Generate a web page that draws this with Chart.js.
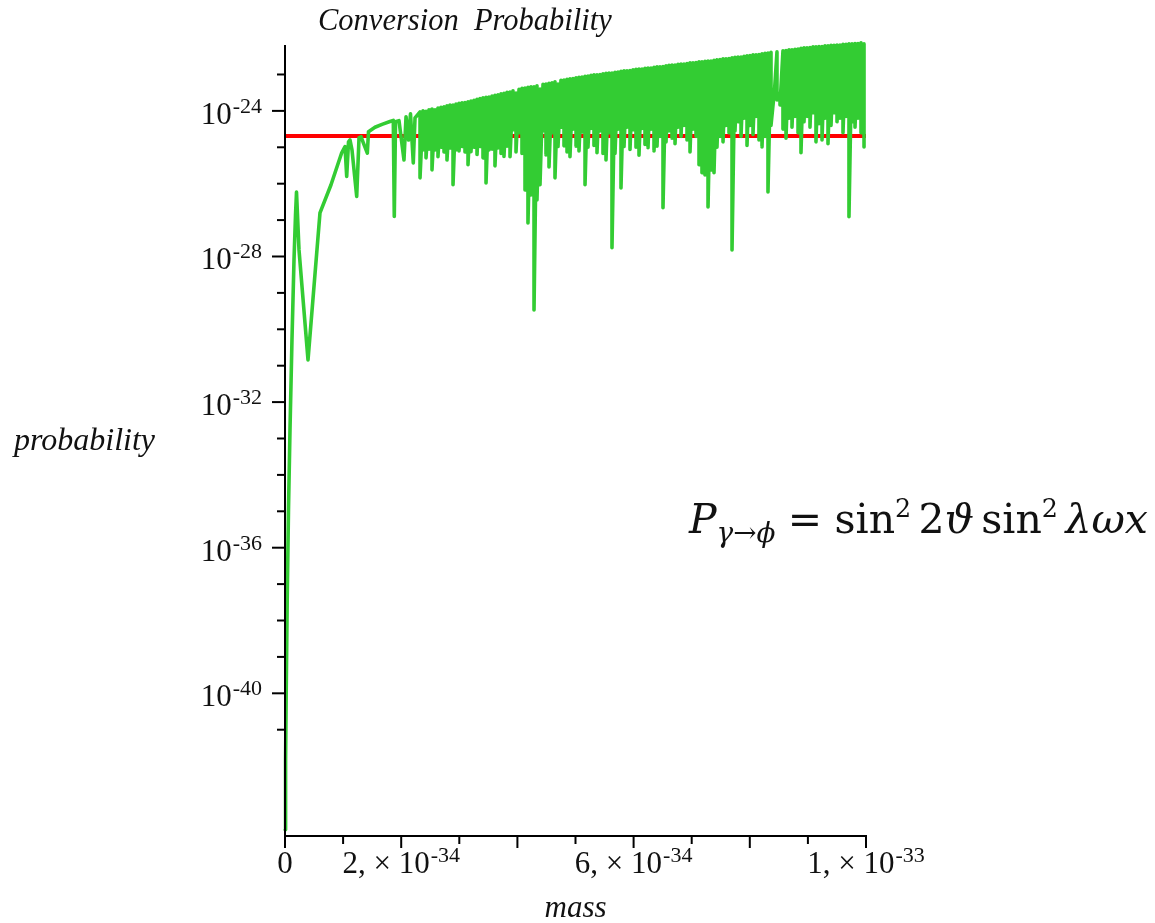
<!DOCTYPE html>
<html>
<head>
<meta charset="utf-8">
<script src="https://cdn.jsdelivr.net/npm/chart.js@4.4.1/dist/chart.umd.min.js"></script>
<style>
  html, body { margin: 0; padding: 0; background: #ffffff; }
  #wrap { width: 1155px; height: 923px; }
</style>
</head>
<body>
<div id="wrap"><canvas id="plot" width="1155" height="923"></canvas></div>
<script>
// Mass values are given in units of 1e-34, probabilities as log10 exponents.
const MASS_UNIT = 1e-34;

// Rising part of the conversion curve (low masses)
const earlyMass = [0.003, 0.010, 0.021, 0.038, 0.060, 0.086, 0.120, 0.155, 0.181, 0.198,
  0.241, 0.396, 0.602, 0.792, 0.976, 1.033, 1.062, 1.093, 1.119, 1.153,
  1.234, 1.274, 1.308, 1.360, 1.417, 1.437, 1.549, 1.670, 1.807, 1.864,
  1.881, 1.902, 1.962, 2.048, 2.083, 2.126, 2.160, 2.208, 2.238];
const earlyExp = [-43.75, -41.83, -39.91, -37.43, -34.96, -32.76, -30.29, -28.09, -26.86, -26.23,
  -27.82, -30.84, -26.80, -26.03, -25.15, -24.98, -25.80, -24.85, -24.80, -25.07,
  -26.35, -24.74, -24.71, -24.93, -25.16, -24.57, -24.45, -24.37, -24.29, -24.26,
  -26.90, -24.30, -24.27, -25.35, -24.16, -24.80, -24.08, -25.43, -24.19];

// Fast-oscillating part: each sample column has a maximum and a minimum
const bandMass = [2.324, 2.375, 2.427, 2.478, 2.530, 2.582, 2.633, 2.685, 2.737, 2.788,
  2.840, 2.892, 2.943, 2.995, 3.046, 3.098, 3.150, 3.201, 3.253, 3.305,
  3.356, 3.408, 3.460, 3.511, 3.563, 3.614, 3.666, 3.718, 3.769, 3.821,
  3.873, 3.924, 3.976, 4.028, 4.079, 4.131, 4.182, 4.234, 4.286, 4.337,
  4.389, 4.441, 4.492, 4.544, 4.596, 4.647, 4.699, 4.750, 4.802, 4.854,
  4.905, 4.957, 5.009, 5.060, 5.112, 5.164, 5.215, 5.267, 5.318, 5.370,
  5.422, 5.473, 5.525, 5.577, 5.628, 5.680, 5.731, 5.783, 5.835, 5.886,
  5.938, 5.990, 6.041, 6.093, 6.145, 6.196, 6.248, 6.299, 6.351, 6.403,
  6.454, 6.506, 6.558, 6.609, 6.661, 6.713, 6.764, 6.816, 6.867, 6.919,
  6.971, 7.022, 7.074, 7.126, 7.177, 7.229, 7.281, 7.332, 7.384, 7.435,
  7.487, 7.539, 7.590, 7.642, 7.694, 7.745, 7.797, 7.849, 7.900, 7.952,
  8.003, 8.055, 8.107, 8.158, 8.210, 8.262, 8.313, 8.365, 8.417, 8.468,
  8.520, 8.571, 8.623, 8.675, 8.726, 8.778, 8.830, 8.881, 8.933, 8.984,
  9.036, 9.088, 9.139, 9.191, 9.243, 9.294, 9.346, 9.398, 9.449, 9.501,
  9.552, 9.604, 9.656, 9.707, 9.759, 9.811, 9.862, 9.914, 9.966];
const bandTop = [-24.03, -24.00, -24.01, -23.97, -23.95, -23.97, -23.92, -23.90, -23.89, -23.86,
  -23.84, -23.84, -23.81, -23.79, -23.78, -23.77, -23.75, -23.73, -23.71, -23.68,
  -23.66, -23.64, -23.63, -23.62, -23.59, -23.57, -23.56, -23.53, -23.52, -23.49,
  -23.48, -23.45, -23.51, -23.41, -23.38, -23.37, -23.35, -23.34, -23.34, -23.31,
  -23.40, -23.27, -23.26, -23.24, -23.23, -23.20, -23.26, -23.16, -23.15, -23.13,
  -23.12, -23.11, -23.09, -23.08, -23.07, -23.05, -23.04, -23.02, -23.01, -23.01,
  -23.00, -22.98, -22.97, -22.96, -22.96, -22.94, -22.93, -22.91, -22.90, -22.90,
  -22.89, -22.87, -22.86, -22.85, -22.85, -22.83, -22.82, -22.82, -22.80, -22.79,
  -22.79, -22.78, -22.76, -22.75, -22.74, -22.74, -22.72, -22.71, -22.71, -22.70,
  -22.68, -22.68, -22.67, -22.65, -22.65, -22.64, -22.63, -22.63, -22.61, -22.60,
  -22.59, -22.57, -22.57, -22.56, -22.54, -22.53, -22.52, -22.52, -22.50, -22.49,
  -22.48, -22.46, -22.46, -22.45, -22.43, -22.42, -22.41, -22.39, -23.56, -22.38,
  -23.51, -22.35, -22.34, -22.32, -22.32, -22.31, -22.30, -22.28, -22.27, -22.27,
  -22.26, -22.24, -22.24, -22.23, -22.23, -22.21, -22.21, -22.20, -22.20, -22.19,
  -22.19, -22.17, -22.17, -22.16, -22.16, -22.15, -22.15, -22.13, -22.16];
const bandLow = [-25.84, -25.07, -25.29, -25.05, -25.62, -25.07, -25.26, -25.00, -25.13, -25.35,
  -25.02, -26.03, -25.07, -25.10, -24.98, -25.13, -25.48, -25.12, -25.00, -25.20,
  -24.98, -25.29, -25.98, -25.07, -25.05, -25.51, -25.02, -25.17, -25.25, -24.97,
  -25.26, -24.52, -25.13, -24.60, -25.17, -26.17, -27.08, -26.31, -29.47, -26.45,
  -26.03, -24.55, -25.21, -25.54, -24.60, -25.84, -24.98, -24.45, -24.96, -25.13,
  -25.26, -24.50, -24.97, -25.10, -24.58, -26.03, -25.00, -24.48, -24.95, -25.15,
  -24.55, -25.17, -25.35, -24.60, -27.76, -25.17, -24.50, -26.12, -24.98, -24.45,
  -25.06, -24.52, -25.00, -25.22, -24.48, -24.92, -25.01, -24.50, -25.10, -24.97,
  -24.70, -26.66, -24.85, -24.55, -24.75, -24.90, -24.45, -24.70, -24.40, -24.80,
  -25.13, -24.50, -24.70, -25.48, -25.70, -25.76, -26.64, -25.62, -25.70, -25.00,
  -24.70, -24.85, -24.40, -24.60, -27.82, -24.55, -24.30, -24.70, -24.20, -24.95,
  -24.40, -24.65, -24.15, -24.80, -24.99, -24.70, -26.23, -24.40, -23.64, -23.70,
  -23.84, -24.50, -24.75, -24.20, -24.45, -24.15, -24.60, -25.15, -24.30, -24.15,
  -24.45, -24.05, -24.85, -24.35, -24.80, -24.20, -24.90, -24.40, -24.05, -24.30,
  -24.20, -24.60, -24.15, -26.91, -24.30, -24.45, -24.20, -24.60, -24.99];

// Reference level (horizontal line)
const levelMass = [0, 10];
const levelExp = [-24.69, -24.69];

// Axes
const massRange = [0, 10];
const expRange = [-43.92, -22.19];
const yTickExps = [-23, -24, -25, -26, -27, -28, -29, -30, -31, -32, -33, -34, -35, -36, -37, -38, -39, -40, -41];
const yLabelExps = [-24, -28, -32, -36, -40];
const xTickMass = [0, 1, 2, 3, 4, 5, 6, 7, 8, 9, 10];
const xMajorMass = [0, 2, 4, 6, 8, 10];
const xLabelMass = [0, 2, 6, 10];
const xLabelMantissa = ['0', '2, \u00d7 10', '6, \u00d7 10', '1, \u00d7 10'];
const xLabelPower = ['', '-34', '-34', '-33'];

const titleText = 'Conversion  Probability';
const yTitleText = 'probability';
const xTitleText = 'mass';

// ---- build point lists ----
const curvePoints = [];
earlyMass.forEach((m, i) => curvePoints.push({ x: m * MASS_UNIT, y: Math.pow(10, earlyExp[i]) }));
bandMass.forEach((m, i) => {
  curvePoints.push({ x: m * MASS_UNIT, y: Math.pow(10, bandTop[i]) });
  curvePoints.push({ x: m * MASS_UNIT, y: Math.pow(10, bandLow[i]) });
});
const levelPoints = levelMass.map((m, i) => ({ x: m * MASS_UNIT, y: Math.pow(10, levelExp[i]) }));

const SERIF = "'Liberation Serif', 'Times New Roman', 'DejaVu Serif', serif";
const MATH = "'DejaVu Serif', serif";
const INK = '#111111';

function powerLabel(ctx, mantissa, power, anchorX, baseY, align) {
  const BASE = 31, SUP = 22, RAISE = 11;
  ctx.font = BASE + 'px ' + SERIF;
  const wBase = ctx.measureText(mantissa).width;
  ctx.font = SUP + 'px ' + SERIF;
  const wPow = power ? ctx.measureText(power).width + 1 : 0;
  const total = wBase + wPow;
  let x0 = anchorX;
  if (align === 'right') x0 = anchorX - total;
  else if (align === 'center') x0 = anchorX - total / 2;
  ctx.textAlign = 'left';
  ctx.textBaseline = 'alphabetic';
  ctx.font = BASE + 'px ' + SERIF;
  ctx.fillText(mantissa, x0, baseY);
  if (power) {
    ctx.font = SUP + 'px ' + SERIF;
    ctx.fillText(power, x0 + wBase + 1, baseY - RAISE);
  }
}

// formula  P_{γ→ϕ} = sin² 2ϑ sin² λωx, laid out piece by piece
const formulaPieces = [
  { t: 'P', it: true, s: 1, dy: 0 },
  { t: '\u03b3', it: true, s: 0.68, dy: 10 },
  { t: '\u2192', it: false, s: 0.68, dy: 10 },
  { t: '\u03d5', it: true, s: 0.68, dy: 10 },
  { gap: 0.3 },
  { t: '=', it: false, s: 1, dy: 0 },
  { gap: 0.3 },
  { t: 'sin', it: false, s: 1, dy: 0 },
  { t: '2', it: false, s: 0.62, dy: -17 },
  { gap: 0.18 },
  { t: '2', it: false, s: 1, dy: 0 },
  { t: '\u03d1', it: true, s: 1, dy: 0 },
  { gap: 0.18 },
  { t: 'sin', it: false, s: 1, dy: 0 },
  { t: '2', it: false, s: 0.62, dy: -17 },
  { gap: 0.18 },
  { t: '\u03bb\u03c9x', it: true, s: 1, dy: 0 }
];

function formulaWidth(ctx, F) {
  let w = 0;
  formulaPieces.forEach(p => {
    if (p.gap) { w += p.gap * F; return; }
    ctx.font = (p.it ? 'italic ' : '') + (p.s * F) + 'px ' + MATH;
    w += ctx.measureText(p.t).width;
  });
  return w;
}

function drawFormula(ctx, left, right, baseline) {
  const F0 = 44;
  const F = F0 * (right - left) / formulaWidth(ctx, F0);
  let x = left;
  ctx.textAlign = 'left';
  formulaPieces.forEach(p => {
    if (p.gap) { x += p.gap * F; return; }
    ctx.font = (p.it ? 'italic ' : '') + (p.s * F) + 'px ' + MATH;
    ctx.fillText(p.t, x, baseline + p.dy * F / F0);
    x += ctx.measureText(p.t).width;
  });
}

const framePlugin = {
  id: 'frameAndText',
  afterDatasetsDraw(chart) {
    const { ctx, chartArea: a } = chart;
    const xs = chart.scales.x, ys = chart.scales.y;
    ctx.save();
    ctx.strokeStyle = '#000';
    ctx.lineWidth = 2;
    ctx.lineCap = 'butt';
    // axis lines
    ctx.beginPath();
    ctx.moveTo(a.left, a.top);
    ctx.lineTo(a.left, a.bottom);
    ctx.lineTo(a.right + 1, a.bottom);
    ctx.stroke();
    // y ticks
    yTickExps.forEach(e => {
      const py = ys.getPixelForValue(Math.pow(10, e));
      const len = yLabelExps.includes(e) ? 13 : 8;
      ctx.beginPath();
      ctx.moveTo(a.left - len, py);
      ctx.lineTo(a.left, py);
      ctx.stroke();
    });
    // x ticks
    xTickMass.forEach(m => {
      const px = xs.getPixelForValue(m * MASS_UNIT);
      const len = xMajorMass.includes(m) ? 12 : 8;
      ctx.beginPath();
      ctx.moveTo(px, a.bottom);
      ctx.lineTo(px, a.bottom + len);
      ctx.stroke();
    });
    ctx.fillStyle = INK;
    // y tick labels
    yLabelExps.forEach(e => {
      const py = ys.getPixelForValue(Math.pow(10, e));
      powerLabel(ctx, '10', String(e), a.left - 23, py + 13, 'right');
    });
    // x tick labels
    xLabelMass.forEach((m, i) => {
      const px = xs.getPixelForValue(m * MASS_UNIT);
      powerLabel(ctx, xLabelMantissa[i], xLabelPower[i], px, a.bottom + 37, 'center');
    });
    // titles
    ctx.textAlign = 'left';
    ctx.font = 'italic 30.5px ' + SERIF;
    ctx.fillText(titleText, 318, 30);
    ctx.font = 'italic 32px ' + SERIF;
    ctx.fillText(yTitleText, 14, 450);
    ctx.textAlign = 'center';
    ctx.font = 'italic 31px ' + SERIF;
    ctx.fillText(xTitleText, (a.left + a.right) / 2, 917);
    // formula
    drawFormula(ctx, 689, 1148, 533);
    ctx.restore();
  }
};

new Chart(document.getElementById('plot'), {
  type: 'line',
  data: {
    datasets: [
      {
        label: 'conversion probability',
        data: curvePoints,
        borderColor: '#33cc33',
        borderWidth: 3.6,
        borderJoinStyle: 'round',
        borderCapStyle: 'round',
        pointRadius: 0,
        tension: 0,
        fill: false,
        clip: false,
        order: 0
      },
      {
        label: 'level',
        data: levelPoints,
        borderColor: '#ff0000',
        borderWidth: 4,
        pointRadius: 0,
        tension: 0,
        fill: false,
        order: 1
      }
    ]
  },
  options: {
    responsive: false,
    devicePixelRatio: 1,
    animation: false,
    layout: { padding: { left: 285, top: 45, right: 289, bottom: 87 } },
    plugins: { legend: { display: false }, tooltip: { enabled: false }, title: { display: false } },
    scales: {
      x: { type: 'linear', display: false, min: massRange[0] * MASS_UNIT, max: massRange[1] * MASS_UNIT },
      y: { type: 'logarithmic', display: false, min: Math.pow(10, expRange[0]), max: Math.pow(10, expRange[1]) }
    }
  },
  plugins: [framePlugin]
});
</script>
</body>
</html>
